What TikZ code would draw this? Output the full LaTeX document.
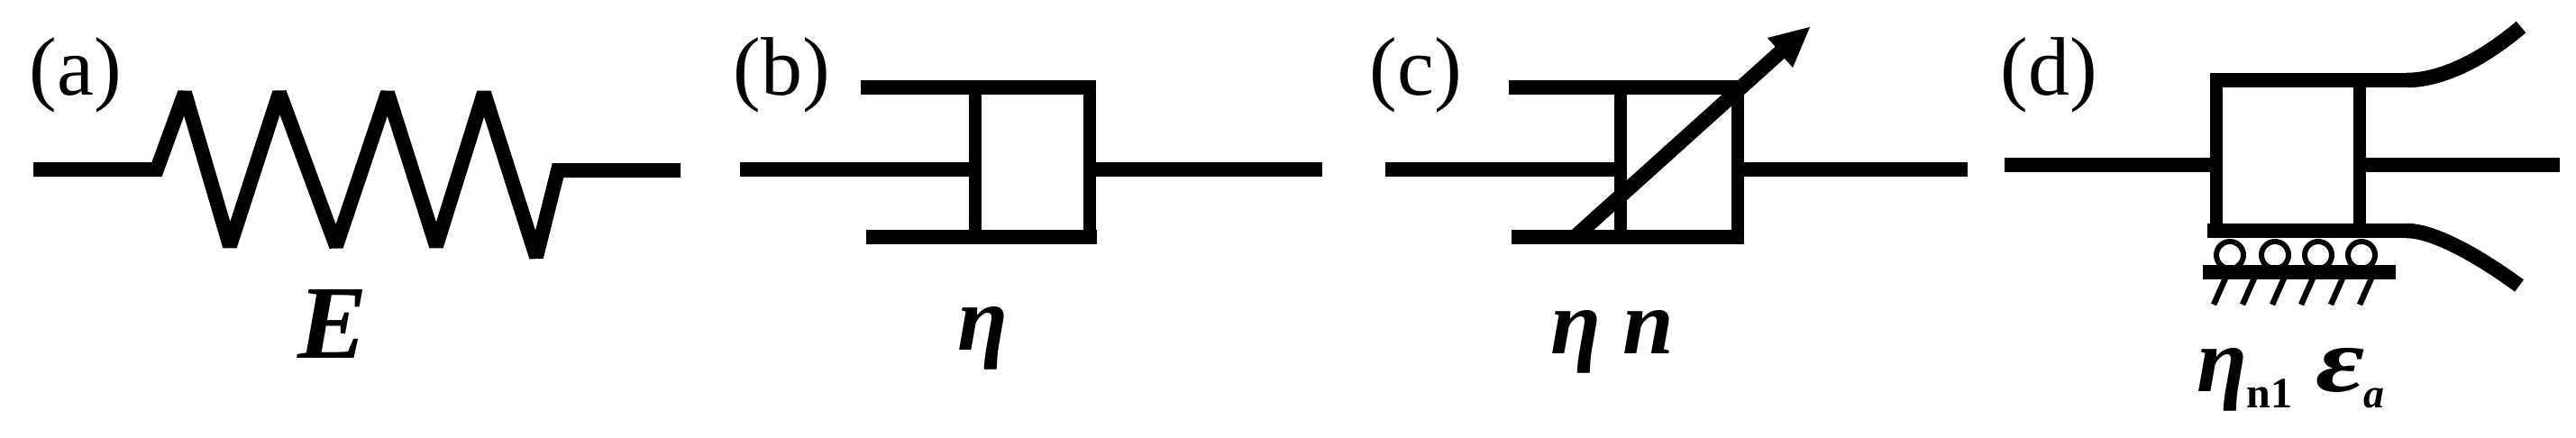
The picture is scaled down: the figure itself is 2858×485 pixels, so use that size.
\documentclass[tikz,border=0pt]{standalone}
\usepackage{fontspec}
\usepackage{graphicx}
\setmainfont{Liberation Serif}
\newcommand{\fsz}[1]{\fontsize{#1}{#1}\selectfont}
\tikzset{
  x=1pt,y=-1pt,
  hbar/.style={draw=black,line width=16pt,line cap=butt},
  vbar/.style={draw=black,line width=14pt,line cap=butt},
  slant/.style={draw=black,line width=16.5pt,line cap=butt},
  spring/.style={draw=black,line width=16pt,line cap=butt,line join=miter,miter limit=2},
  roller/.style={draw=black,line width=6pt},
  hatch/.style={draw=black,line width=6.5pt,line cap=butt},
  panel/.style={inner sep=0pt,anchor=base,font=\fsz{92}},
  symb/.style={inner sep=0pt,anchor=base,font=\fsz{102}\bfseries\itshape},
}
\begin{document}
\begin{tikzpicture}
\useasboundingbox (0,0) rectangle (2858,485);
% (a)
\node[panel] (la) at (84,105) {(a)};
\draw[spring] (37,188) -- (174,188) -- (205,103) -- (255,273) -- (310,103) -- (373,273) -- (430,103) -- (484,273) -- (537,103) -- (595,285) -- (619,189) -- (755,189);
\node[inner sep=0pt,anchor=base,font=\fsz{116}\bfseries\itshape] (E) at (369,397) {E};
% (b)
\node[panel] (lb) at (867,105) {(b)};
\draw[hbar] (955,97) -- (1216,97);
\draw[hbar] (961,263) -- (1217,263);
\draw[vbar] (1209,97) -- (1209,263);
\draw[vbar] (1082,97) -- (1082,263);
\draw[hbar] (821,188) -- (1082,188);
\draw[hbar] (1209,188) -- (1467,188);
\node[symb] (etab) at (1090,388) {η};
% (c)
\node[panel] (lc) at (1571,105) {(c)};
\draw[hbar] (1674,97) -- (1935,97);
\draw[hbar] (1677,263) -- (1935,263);
\draw[vbar] (1928,97) -- (1928,263);
\draw[vbar] (1798,97) -- (1798,263);
\draw[hbar] (1537,188) -- (1798,188);
\draw[hbar] (1928,188) -- (2183,188);
\draw[slant] (1745,265) -- (1975,58);
\fill[black] (2008,30) -- (1961,42) -- (1968,50) -- (1980,65) -- (1989,75) -- cycle;
\node[symb] (etac) at (1748,392) {η};
\node[symb] (n) at (1829,392) {n};
% (d)
\node[panel] (ld) at (2273,105) {(d)};
\draw[hbar] (2452,89) -- (2672,89);
\draw[hbar] (2449,256) -- (2672,256);
\draw[vbar] (2459,89) -- (2459,256);
\draw[vbar] (2618,89) -- (2618,256);
\draw[hbar] (2224,183) -- (2459,183);
\draw[hbar] (2618,183) -- (2840,183);
\draw[slant] (2670,89) .. controls (2705,89) and (2750,70) .. (2797,30);
\draw[slant] (2670,256) .. controls (2700,256) and (2750,284) .. (2795,317);
\foreach \cx in {2474,2524,2572,2620}
  \draw[roller] (\cx,283) circle (15);
\draw[hbar] (2444,302) -- (2658,302);
\foreach \hx in {2456,2488,2521,2553,2586,2618}
  \draw[hatch] (\hx,338) -- (\hx+16,302);
\node[symb] (etad) at (2465,434) {η};
\node[inner sep=0pt,anchor=base,font=\fsz{48}\bfseries] (nsub) at (2518,452) {n1};
\node[symb] (eps) at (2597,434) {\scalebox{1.3}[1]{ε}};
\node[inner sep=0pt,anchor=base,font=\fsz{46}\bfseries\itshape] (asub) at (2634,452) {a};
\end{tikzpicture}
\end{document}
